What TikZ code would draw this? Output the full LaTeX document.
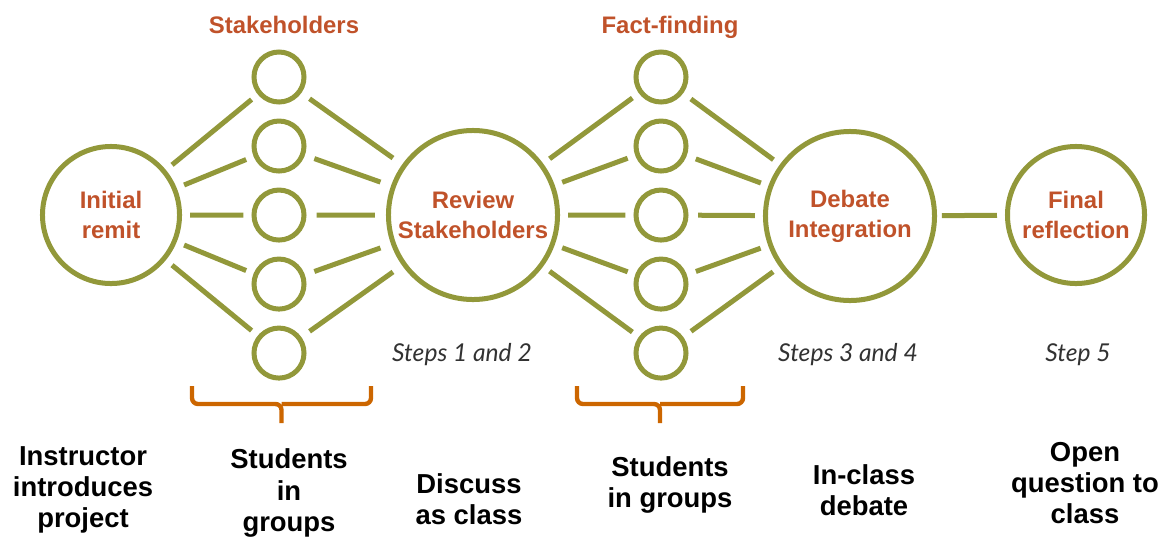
\documentclass[tikz,border=0pt]{standalone}
\usepackage{fontspec}
\setmainfont{Liberation Sans}
\newfontfamily\stepsfont{Lato}
\usetikzlibrary{positioning}
\definecolor{rimgreen}{RGB}{146,152,58}
\definecolor{labelorange}{RGB}{192,82,42}
\definecolor{braceorange}{RGB}{204,102,0}
\definecolor{stepgray}{RGB}{50,50,50}
\tikzset{
thickline/.style={line width=0.125cm},
bigstage/.style={
	draw=rimgreen, thickline, circle, inner sep=0pt,
	minimum size=#1, text=labelorange, align=center,
	font=\bfseries\fontsize{17}{21.3}\selectfont
},
smallstage/.style={draw=rimgreen, thickline, circle, inner sep=0pt, minimum size=1.25cm},
link/.style 2 args={draw=rimgreen, thickline, shorten <=#1, shorten >=#2},
stagetitle/.style={text=labelorange, anchor=base, font=\bfseries\fontsize{17}{21.3}\selectfont},
steplabel/.style={text=stepgray, font=\stepsfont\itshape\fontsize{17.5}{20}\selectfont},
activity/.style={align=center, font=\bfseries\fontsize{19.5}{22.2}\selectfont},
brace/.style={draw=braceorange, line width=0.11cm, rounded corners=0.15cm},
}

\begin{document}
\begin{tikzpicture}[x=0.025cm, y=-0.025cm, node distance=1.725cm]
\useasboundingbox (0,0) rectangle (1171,541);
%Place the nodes
\node[bigstage=3.425cm] (init) at (111,215) {Initial\\remit};
\node[bigstage=4.225cm] (review) at (473,215) {Review\\Stakeholders};
\node[bigstage=4.225cm] (debate) at (850,216) {Debate\\Integration};
\node[bigstage=3.425cm] (final) at (1076,215) {Final\\reflection};

\node[smallstage] (s1) at (279,77) {};
\node[smallstage] (f1) at (661,77) {};
\foreach \j in {2, ..., 5} {
	\pgfmathtruncatemacro{\jn}{(\j-1)}%
	\node[smallstage, below of=s\jn] (s\j) {};
	\node[smallstage, below of=f\jn] (f\j) {};
}

%Connect the stages
\foreach \j in {1, ..., 5} {
	\draw[link={0.2cm}{0.2cm}] (init) to (s\j);
	\draw[link={0.25cm}{0.28cm}] (s\j) to (review);
	\draw[link={0.2cm}{0.2cm}] (review) to (f\j);
	\draw[link={0.24cm}{0.2cm}] (f\j) to (debate);
}
\draw[link={0.12cm}{0.2cm}] (debate) to (final);

\node[stagetitle] (stitle) at (284,33) {Stakeholders};
\node[stagetitle] (ftitle) at (670,33) {Fact-finding};

\node[steplabel] (steps12) at (462,355) {Steps 1 and 2};
\node[steplabel] (steps34) at (848,355) {Steps 3 and 4};
\node[steplabel] (step5) at (1078,355) {Step 5};

%Braces under the groups
\foreach \l/\r in {192/371, 577/743} {
	\pgfmathsetmacro{\m}{(\l+\r)/2}
	\draw[brace] (\l,386) |- (\m,404) -- (\m,423);
	\draw[brace] (\r,386) |- (\m,404);
}

\node[activity] (a1) at (83,490) {Instructor\\introduces\\project};
\node[activity] (a2) at (289,493) {Students\\in\\groups};
\node[activity] (a3) at (469,499) {Discuss\\as class};
\node[activity] (a4) at (670,485) {Students\\in groups};
\node[activity] (a5) at (864,490) {In-class\\debate};
\node[activity] (a6) at (1085,483) {Open\\question to\\class};

\end{tikzpicture}
\end{document}
